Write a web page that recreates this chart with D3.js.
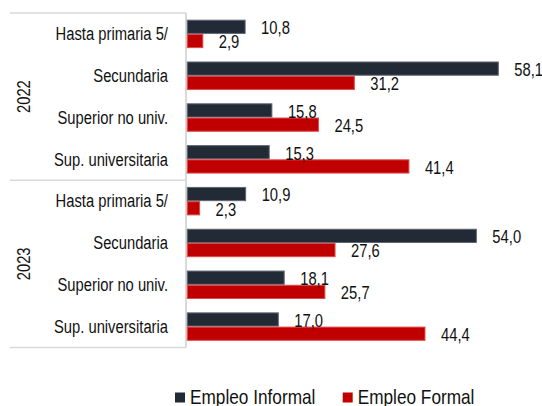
<!DOCTYPE html>
<html>
<head>
<meta charset="utf-8">
<script src="https://cdn.jsdelivr.net/npm/d3@7"></script>
<style>
    body { margin: 0; background: #fff; }
    svg text { font-family: 'Liberation Sans', Arial, sans-serif; fill: #111; }
    .grid-line { stroke: #d9d9d9; stroke-width: 1.5; }
</style>
</head>
<body>
<div id="chart"></div>
<script>
const years = ["2022", "2023"];
const categories = ["Hasta primaria 5/", "Secundaria", "Superior no univ.", "Sup. universitaria"];
const series = ["Empleo Informal", "Empleo Formal"];
const informal = [10.8, 58.1, 15.8, 15.3, 10.9, 54.0, 18.1, 17.0];
const formal = [2.9, 31.2, 24.5, 41.4, 2.3, 27.6, 25.7, 44.4];

const colours = { "Empleo Informal": "#222a36", "Empleo Formal": "#c00000" };
const strokes = { "Empleo Informal": "#5d6573", "Empleo Formal": "#e04848" };

const width = 542, height = 406;

const svg = d3.select("#chart").append("svg")
    .attr("width", width)
    .attr("height", height);

// narrow look: squeeze the regular face horizontally (no Arial Narrow here)
function narrow(sel) {
    sel.each(function() {
        const w = this.getComputedTextLength();
        d3.select(this)
            .attr("textLength", w * 0.82)
            .attr("lengthAdjust", "spacingAndGlyphs");
    });
}

// one row per year/category pair
const rows = [];
years.forEach((yr, i) => {
    categories.forEach((cat, j) => {
        const k = i * categories.length + j;
        rows.push({
            id: yr + "|" + cat,
            year: yr,
            category: cat,
            values: [
                { key: series[0], value: informal[k] },
                { key: series[1], value: formal[k] }
            ]
        });
    });
});

const plotTop = 13, plotBottom = 347.5;
const axisX = 186, leftEdge = 10;

const y = d3.scaleBand()
    .domain(rows.map(d => d.id))
    .range([plotTop, plotBottom])
    .paddingInner(0.32)
    .paddingOuter(0.16);

const y1 = d3.scaleBand()
    .domain(series)
    .range([0, y.bandwidth()]);

const x = d3.scaleLinear()
    .domain([0, 60])
    .range([187.3, 187.3 + 60 * 5.353]);

const fmt = v => d3.format(".1f")(v).replace(".", ",");

// category box lines
const step = y.step();
const groupLines = [plotTop, plotTop + step * categories.length, plotBottom];
svg.append("g").selectAll("line")
    .data(groupLines)
    .enter().append("line")
    .attr("class", "grid-line")
    .attr("x1", leftEdge)
    .attr("x2", axisX)
    .attr("y1", d => d)
    .attr("y2", d => d);

svg.append("line")
    .attr("class", "grid-line")
    .attr("x1", axisX)
    .attr("x2", axisX)
    .attr("y1", plotTop)
    .attr("y2", plotBottom)
    .style("stroke-width", 2);

// category labels
svg.append("g").selectAll("text")
    .data(rows)
    .enter().append("text")
    .attr("x", 168)
    .attr("y", d => y(d.id) + y.bandwidth() / 2)
    .attr("dy", "0.35em")
    .attr("text-anchor", "end")
    .style("font-size", "18px")
    .text(d => d.category)
    .call(narrow);

// year labels
svg.append("g").selectAll("text")
    .data(years)
    .enter().append("text")
    .attr("transform", (d, i) => {
        const cy = plotTop + step * categories.length * (i + 0.5);
        return "translate(" + [23.5, cy] + ") rotate(-90)";
    })
    .attr("dy", "0.35em")
    .attr("text-anchor", "middle")
    .style("font-size", "18px")
    .text(d => d)
    .call(narrow);

// bars
const rowG = svg.append("g").selectAll("g")
    .data(rows)
    .enter().append("g")
    .attr("transform", d => "translate(0," + y(d.id) + ")");

rowG.selectAll("rect")
    .data(d => d.values)
    .enter().append("rect")
    .attr("x", x(0))
    .attr("y", d => y1(d.key) + 0.5)
    .attr("width", d => x(d.value) - x(0))
    .attr("height", y1.bandwidth() - 1)
    .style("fill", d => colours[d.key])
    .style("stroke", d => strokes[d.key])
    .style("stroke-width", 1);

rowG.selectAll("text")
    .data(d => d.values)
    .enter().append("text")
    .attr("x", d => x(d.value) + 16)
    .attr("y", d => y1(d.key) + y1.bandwidth() / 2 + 1)
    .attr("dy", "0.35em")
    .style("font-size", "18px")
    .text(d => fmt(d.value))
    .call(narrow);

// legend
const legendX = [175, 342.7];
const legend = svg.append("g").selectAll("g")
    .data(series)
    .enter().append("g")
    .attr("transform", (d, i) => "translate(" + legendX[i] + ",392.5)");

legend.append("rect")
    .attr("width", 10)
    .attr("height", 10)
    .style("fill", d => colours[d]);

legend.append("text")
    .attr("x", 15)
    .attr("y", 11.5)
    .style("font-size", "21px")
    .text(d => d)
    .call(narrow);
</script>
</body>
</html>
